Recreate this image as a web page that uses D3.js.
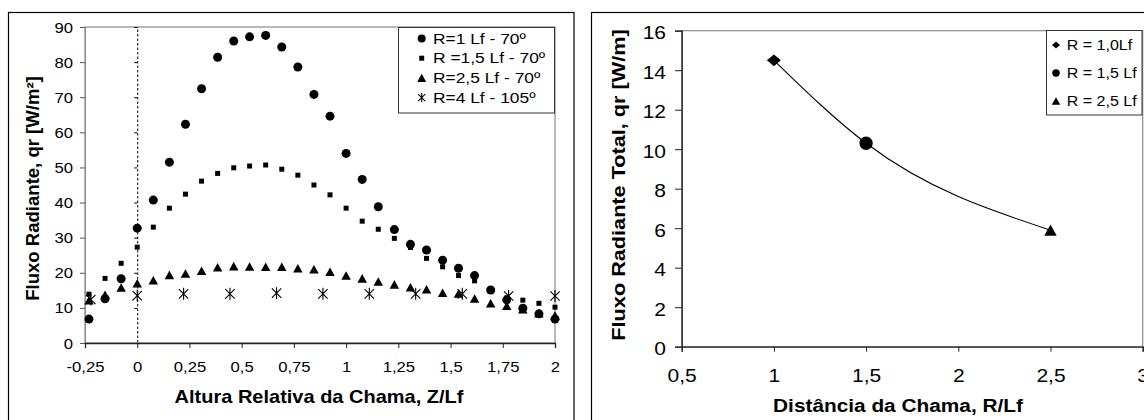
<!DOCTYPE html>
<html>
<head>
<meta charset="utf-8">
<script src="https://cdn.jsdelivr.net/npm/d3@7"></script>
<style>
  body { margin: 0; background: #fff; }
  svg { display: block; font-family: Arial, "Liberation Sans", sans-serif; }
</style>
</head>
<body>
<svg id="chart" width="1144" height="420"></svg>
<script>
// ---- Left panel: radiant flux vs relative flame height ----
const zRel = [-0.231, -0.154, -0.077, 0, 0.077, 0.154, 0.231, 0.308, 0.385, 0.462,
              0.538, 0.615, 0.692, 0.769, 0.846, 0.923, 1.0, 1.077, 1.154, 1.231,
              1.308, 1.385, 1.462, 1.538, 1.615, 1.692, 1.769, 1.846, 1.923, 2.0];
const fluxR1 = [6.8, 12.6, 18.3, 32.7, 40.7, 51.5, 62.3, 72.4, 81.4, 86.0,
                87.2, 87.6, 84.3, 78.6, 70.8, 64.6, 54.0, 46.6, 38.8, 32.3,
                28.1, 26.5, 23.6, 21.3, 19.2, 15.1, 12.3, 9.9, 8.3, 6.8];
const fluxR15 = [13.9, 18.4, 22.7, 27.3, 33.0, 38.4, 42.4, 46.1, 48.3, 49.9,
                 50.4, 50.7, 49.5, 47.8, 45.0, 42.2, 38.4, 34.7, 32.4, 29.8,
                 27.2, 24.1, 21.7, 19.2, 17.7, 15.4, 12.8, 12.2, 11.3, 10.2];
const fluxR25 = [12.2, 13.7, 15.8, 17.0, 17.9, 19.4, 19.8, 20.6, 21.6, 21.9,
                 21.8, 21.7, 21.7, 21.3, 21.0, 20.3, 19.2, 18.4, 17.5, 16.7,
                 15.9, 15.3, 14.3, 14.1, 12.7, 11.3, 10.6, 9.6, 8.5, 7.8];
const zRelR4 = [-0.222, 0, 0.222, 0.444, 0.667, 0.889, 1.111, 1.333, 1.556, 1.778, 2.0];
const fluxR4 = [12.4, 13.5, 14.0, 14.0, 14.2, 14.0, 14.0, 14.0, 14.0, 13.4, 13.4];
const leftXTicks = [-0.25, 0, 0.25, 0.5, 0.75, 1, 1.25, 1.5, 1.75, 2];
const leftYTicks = [0, 10, 20, 30, 40, 50, 60, 70, 80, 90];
const leftLegend = ["R=1 Lf - 70º", "R =1,5 Lf - 70º", "R=2,5 Lf - 70º", "R=4 Lf - 105º"];

// ---- Right panel: total radiant flux vs flame distance ----
const distR = [1.0, 1.5, 2.5];
const fluxTotal = [14.5, 10.3, 5.9];
const rightLegend = ["R = 1,0Lf", "R = 1,5 Lf", "R = 2,5 Lf"];
const rightXTicks = [0.5, 1, 1.5, 2, 2.5, 3];
const rightYTicks = [0, 2, 4, 6, 8, 10, 12, 14, 16];

const locale = d3.formatLocale({decimal: ",", thousands: ".", grouping: [3], currency: ["", ""], minus: "-"});
const fmt = locale.format("~g");

const svg = d3.select("#chart");

// Marker shapes; "size" is the marker width in pixels
const mCircle = { draw(c, s) { c.moveTo(s / 2, 0); c.arc(0, 0, s / 2, 0, 2 * Math.PI); } };
const mSquare = { draw(c, s) { c.rect(-s / 2, -s / 2, s, s); } };
const mTriangle = { draw(c, s) { const h = s * 0.9; c.moveTo(0, -h / 2); c.lineTo(s / 2, h / 2); c.lineTo(-s / 2, h / 2); c.closePath(); } };
const mDiamond = { draw(c, s) { const h = s * 0.85; c.moveTo(0, -h / 2); c.lineTo(s / 2, 0); c.lineTo(0, h / 2); c.lineTo(-s / 2, 0); c.closePath(); } };
const mStar = { draw(c, s) { const r = s / 2, d = r * 0.78;
  c.moveTo(0, -r); c.lineTo(0, r);
  c.moveTo(-d, -d); c.lineTo(d, d);
  c.moveTo(-d, d); c.lineTo(d, -d); } };

// Wide text (stretched along its own direction)
function styleText(sel, size, sx, weight) {
  sel.style("font-size", size + "px").style("font-weight", weight || "normal").attr("fill", "#000");
  sel.each(function () {
    const t = d3.select(this);
    const x = +t.attr("x") || 0, y = +t.attr("y") || 0;
    const rot = t.attr("data-rot") ? ` rotate(${t.attr("data-rot")})` : "";
    t.attr("x", 0).attr("y", 0).attr("dy", null)
     .attr("transform", `translate(${x},${y})${rot} scale(${sx},1)`);
  });
}

function addText(g, x, y, str, anchor) {
  return g.append("text").attr("x", x).attr("y", y).attr("text-anchor", anchor || "start").text(str);
}

// ================= LEFT PANEL =================
{
  const L = { left: 85, right: 555, top: 27, bottom: 343 };
  const g = svg.append("g");
  g.append("rect").attr("x", 8.5).attr("y", 12.5).attr("width", 565.5).attr("height", 430)
    .attr("fill", "none").attr("stroke", "#000").attr("stroke-width", 1.2);

  const x = d3.scaleLinear().domain([-0.25, 2]).range([L.left, L.right]);
  const y = d3.scaleLinear().domain([0, 90]).range([L.bottom, L.top]);

  // plot-area border
  g.append("rect").attr("x", L.left).attr("y", L.top).attr("width", L.right - L.left).attr("height", L.bottom - L.top)
    .attr("fill", "none").attr("stroke", "#8c8c8c").attr("stroke-width", 1.2);

  // y axis at left edge (labels)
  const ya = g.append("g").attr("transform", `translate(${L.left},0)`)
    .call(d3.axisLeft(y).tickValues(leftYTicks).tickSize(5).tickPadding(7).tickFormat(fmt));
  ya.select(".domain").attr("stroke", "#8c8c8c");
  ya.selectAll(".tick line").attr("stroke", "#555");
  ya.selectAll(".tick text").attr("y", 5);
  styleText(ya.selectAll(".tick text"), 14.5, 1.15);

  // vertical axis crossing at Z/Lf = 0 (dotted)
  const y0 = g.append("g").attr("transform", `translate(${x(0)},0)`)
    .call(d3.axisLeft(y).tickValues(leftYTicks).tickSize(3).tickFormat(""));
  y0.select(".domain").attr("stroke", "#000").attr("stroke-dasharray", "2.5,2");
  y0.selectAll(".tick line").attr("stroke", "#000");

  // x axis
  const xa = g.append("g").attr("transform", `translate(0,${L.bottom})`)
    .call(d3.axisBottom(x).tickValues(leftXTicks).tickSize(5).tickFormat(fmt));
  xa.select(".domain").attr("stroke", "#222").attr("stroke-width", 1.3);
  xa.selectAll(".tick line").attr("stroke", "#222");
  xa.selectAll(".tick text").attr("y", 28.7);
  styleText(xa.selectAll(".tick text"), 14.5, 1.15);

  // series
  const series = [
    { zs: zRel, vs: fluxR1, type: mCircle, size: 9 },
    { zs: zRel, vs: fluxR15, type: mSquare, size: 5 },
    { zs: zRel, vs: fluxR25, type: mTriangle, size: 9.5 },
    { zs: zRelR4, vs: fluxR4, type: mStar, size: 12, stroke: true }
  ];
  series.forEach(s => {
    const sym = d3.symbol().type(s.type).size(s.size);
    g.append("g").selectAll("path").data(s.vs).join("path")
      .attr("transform", (d, i) => `translate(${x(s.zs[i])},${y(d)})`)
      .attr("d", sym)
      .attr("fill", s.stroke ? "none" : "#000")
      .attr("stroke", s.stroke ? "#000" : "none")
      .attr("stroke-width", 1.1);
  });

  // legend
  const lg = g.append("g");
  lg.append("rect").attr("x", 398.5).attr("y", 27.5).attr("width", 156).attr("height", 85.5)
    .attr("fill", "#fff").attr("stroke", "#333").attr("stroke-width", 1);
  const legTypes = [[mCircle, 8], [mSquare, 5], [mTriangle, 9], [mStar, 9]];
  leftLegend.forEach((lab, i) => {
    const cy = 38.5 + i * 19.7;
    const st = legTypes[i][0] === mStar;
    lg.append("path").attr("transform", `translate(421.7,${cy})`)
      .attr("d", d3.symbol().type(legTypes[i][0]).size(legTypes[i][1]))
      .attr("fill", st ? "none" : "#000").attr("stroke", st ? "#000" : "none").attr("stroke-width", 1.1);
    styleText(addText(lg, 433, cy + 5, lab), 14.5, 1.2);
  });

  // axis titles
  styleText(addText(g, 319, 403.3, "Altura Relativa da Chama, Z/Lf", "middle"), 17.7, 1.13, "bold");
  const yt = addText(g, 39.3, 188.5, "Fluxo Radiante, qr [W/m²]", "middle").attr("data-rot", -90);
  styleText(yt, 18, 1.03, "bold");
}

// ================= RIGHT PANEL =================
{
  const R = { left: 681.7, right: 1142.7, top: 30.7, bottom: 346.7 };
  const g = svg.append("g");
  g.append("rect").attr("x", 591.5).attr("y", 12.5).attr("width", 620).attr("height", 430)
    .attr("fill", "none").attr("stroke", "#000").attr("stroke-width", 1.2);

  const x = d3.scaleLinear().domain([0.5, 3]).range([R.left, R.right]);
  const y = d3.scaleLinear().domain([0, 16]).range([R.bottom, R.top]);

  g.append("rect").attr("x", R.left).attr("y", R.top).attr("width", R.right - R.left).attr("height", R.bottom - R.top)
    .attr("fill", "none").attr("stroke", "#8c8c8c").attr("stroke-width", 1.2);

  const ya = g.append("g").attr("transform", `translate(${R.left},0)`)
    .call(d3.axisLeft(y).tickValues(rightYTicks).tickSize(6.7).tickPadding(9).tickFormat(fmt));
  ya.select(".domain").attr("stroke", "#222").attr("stroke-width", 1.3);
  ya.selectAll(".tick line").attr("stroke", "#222");
  ya.selectAll(".tick text").attr("y", 8);
  styleText(ya.selectAll(".tick text"), 18.6, 1.13);

  const xa = g.append("g").attr("transform", `translate(0,${R.bottom})`)
    .call(d3.axisBottom(x).tickValues(rightXTicks).tickSize(5).tickFormat(fmt));
  xa.select(".domain").attr("stroke", "#222").attr("stroke-width", 1.3);
  xa.selectAll(".tick line").attr("stroke", "#222");
  xa.selectAll(".tick text").attr("y", 35);
  styleText(xa.selectAll(".tick text"), 18.6, 1.13);

  // fitted curve through the three points
  const line = d3.line().x((d, i) => x(distR[i])).y(d => y(d)).curve(d3.curveMonotoneX);
  g.append("path").attr("d", line(fluxTotal)).attr("fill", "none").attr("stroke", "#000").attr("stroke-width", 1.1);

  const pts = [[mDiamond, 14], [mCircle, 13.3], [mTriangle, 12.5]];
  fluxTotal.forEach((v, i) => {
    g.append("path").attr("transform", `translate(${x(distR[i])},${y(v)})`)
      .attr("d", d3.symbol().type(pts[i][0]).size(pts[i][1])).attr("fill", "#000");
  });

  // legend
  const lg = g.append("g");
  lg.append("rect").attr("x", 1046.5).attr("y", 30.5).attr("width", 95.5).attr("height", 84.5)
    .attr("fill", "#fff").attr("stroke", "#333").attr("stroke-width", 1);
  const legT = [[mDiamond, 8], [mCircle, 7.5], [mTriangle, 8.5]];
  rightLegend.forEach((lab, i) => {
    const cy = 45 + i * 28;
    lg.append("path").attr("transform", `translate(1056,${cy})`)
      .attr("d", d3.symbol().type(legT[i][0]).size(legT[i][1])).attr("fill", "#000");
    styleText(addText(lg, 1066.7, cy + 5.4, lab), 15, 1.07);
  });

  styleText(addText(g, 898, 411.7, "Distância da Chama, R/Lf", "middle"), 18.6, 1.12, "bold");
  const yt = addText(g, 625, 185, "Fluxo Radiante Total, qr [W/m]", "middle").attr("data-rot", -90);
  styleText(yt, 18.6, 1.165, "bold");
}
</script>
</body>
</html>
